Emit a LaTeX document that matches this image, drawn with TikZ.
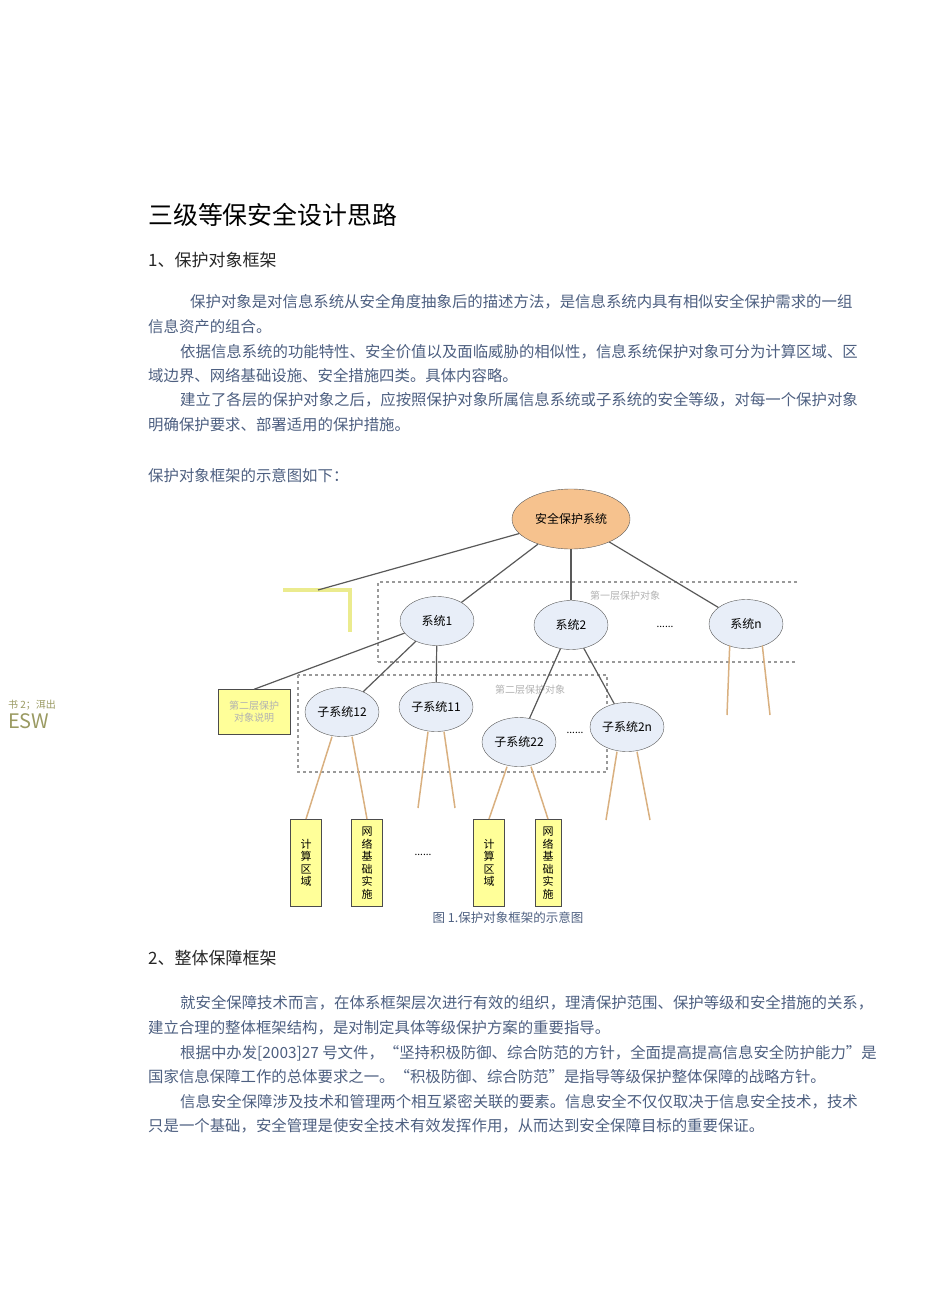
\documentclass[tikz,border=0pt]{standalone}
\usepackage{fontspec}
\setmainfont{Noto Sans CJK SC}
\usetikzlibrary{shapes.geometric}
\definecolor{bodyc}{HTML}{4D5F80}
\definecolor{orangef}{HTML}{F6C28E}
\definecolor{ellf}{HTML}{E8EEF8}
\definecolor{tan}{HTML}{D9B080}
\definecolor{yel}{HTML}{FFFF99}
\definecolor{olive}{HTML}{9A9A62}
\tikzset{
 body/.style={anchor=west,inner sep=0,text=bodyc,font=\fontsize{15.4}{15}\selectfont},
 head/.style={anchor=west,inner sep=0,text=black!85,font=\fontsize{17}{17}\selectfont},
 ell/.style={ellipse,draw=gray!70!black,fill=ellf,minimum width=74pt,minimum height=49pt,inner sep=0,font=\fontsize{12}{12}\selectfont},
 conn/.style={draw=gray!70!black,line width=1.2pt},
 leg/.style={draw=tan,line width=1.5pt},
 ybox/.style={draw=gray!60!black,fill=yel,line width=1pt,minimum width=31pt,minimum height=87pt,inner sep=0,align=center,font=\fontsize{11}{12.5}\selectfont},
 dbox/.style={draw=gray!80,dashed,line width=1.4pt},
 faint/.style={text=gray!60,font=\fontsize{10}{10}\selectfont},
}
\begin{document}
\begin{tikzpicture}[x=1pt,y=-1pt]
\useasboundingbox (0,0) rectangle (950,1314);
\node[anchor=west,inner sep=0,font=\fontsize{24.9}{25}\selectfont] (t) at (148,215) {三级等保安全设计思路};
\node[head] (h1) at (148,260) {1、保护对象框架};
\node[body] (p1) at (190,302) {保护对象是对信息系统从安全角度抽象后的描述方法，是信息系统内具有相似安全保护需求的一组};
\node[body] (p2) at (148,327) {信息资产的组合。};
\node[body] (p3) at (180,352) {依据信息系统的功能特性、安全价值以及面临威胁的相似性，信息系统保护对象可分为计算区域、区};
\node[body] (p4) at (148,376) {域边界、网络基础设施、安全措施四类。具体内容略。};
\node[body] (p5) at (180,400) {建立了各层的保护对象之后，应按照保护对象所属信息系统或子系统的安全等级，对每一个保护对象};
\node[body] (p6) at (148,425) {明确保护要求、部署适用的保护措施。};
\node[body] (p7) at (148,476) {保护对象框架的示意图如下：};
% margin note
\node[anchor=west,inner sep=0,text=olive,font=\fontsize{10}{10}\selectfont] (m1) at (8,705) {书 2；洱出};
\node[anchor=west,inner sep=0,text=olive,font=\fontsize{20}{20}\selectfont] (m2) at (8,721) {ESW};
% dashed boxes
\draw[dbox] (797,582) -- (378,582) -- (378,662);
\draw[dbox,line width=2.4pt] (378,662) -- (797,662);
\node[faint] (l1) at (625,596) {第一层保护对象};
\draw[dbox] (298,675) rectangle (607,772);
\node[faint] (l2) at (530,690) {第二层保护对象};
% top
\node[ellipse,draw=gray!70!black,fill=orangef,minimum width=118pt,minimum height=60pt,inner sep=0,font=\fontsize{12}{12}\selectfont] (top) at (571,519) {安全保护系统};
\node[ell] (s1) at (437,621) {系统1};
\node[ell] (s2) at (571,625) {系统2};
\node[ell] (sn) at (746,624) {系统n};
\node (d1) at (665,627) {......};
\coordinate (br) at (318,590);
\draw[draw=yel!80!olive,line width=4pt] (283,590) -- (350,590) -- (350,632);
\draw[conn] (top) -- (br);
\draw[conn] (top) -- (s1);
\draw[conn] (top) -- (s2);
\draw[conn] (top) -- (sn);
% second level
\node[ell] (c12) at (342,712) {子系统12};
\node[ell] (c11) at (436,707) {子系统11};
\node[ell] (c22) at (519,742) {子系统22};
\node[ell] (c2n) at (627,727) {子系统2n};
\node (d2) at (575,733) {......};
\node[draw=gray!60!black,fill=yel,minimum width=72pt,minimum height=45pt,inner sep=0,align=center,text=gray!60,font=\fontsize{10}{12}\selectfont] (yb) at (254,712) {第二层保护\\对象说明};
\draw[conn] (s1) -- (yb.north);
\draw[conn] (s1) -- (c12);
\draw[conn] (s1) -- (c11);
\draw[conn] (s2) -- (c22);
\draw[conn] (s2) -- (c2n);
% boxes
\node[ybox] (b1) at (306,863) {计\\算\\区\\域};
\node[ybox] (b2) at (367,863) {网\\络\\基\\础\\实\\施};
\node (d3) at (423,855) {......};
\node[ybox] (b3) at (489,863) {计\\算\\区\\域};
\node[ybox,minimum width=26pt] (b4) at (548,863) {网\\络\\基\\础\\实\\施};
% legs
\coordinate (e1) at (727,715); \coordinate (e2) at (770,715);
\draw[leg] (sn.south west) ++(10,4) -- (e1);
\draw[leg] (sn.south east) ++(-10,4) -- (e2);
\draw[leg] (c12.south) ++(-10,0) -- (b1.north);
\draw[leg] (c12.south) ++(10,0) -- (b2.north);
\coordinate (e3) at (418,808); \coordinate (e4) at (455,808);
\draw[leg] (c11.south) ++(-8,0) -- (e3);
\draw[leg] (c11.south) ++(8,0) -- (e4);
\draw[leg] (c22.south) ++(-12,0) -- (b3.north);
\draw[leg] (c22.south) ++(12,0) -- (b4.north);
\coordinate (e5) at (606,820); \coordinate (e6) at (650,820);
\draw[leg] (c2n.south) ++(-10,0) -- (e5);
\draw[leg] (c2n.south) ++(10,0) -- (e6);
\node[text=bodyc,font=\fontsize{12.5}{12.5}\selectfont] (cap) at (508,918) {图 1.保护对象框架的示意图};
% section 2
\node[head] (h2) at (148,958) {2、整体保障框架};
\node[body] (q1) at (180,1003) {就安全保障技术而言，在体系框架层次进行有效的组织，理清保护范围、保护等级和安全措施的关系，};
\node[body] (q2) at (148,1028) {建立合理的整体框架结构，是对制定具体等级保护方案的重要指导。};
\node[body] (q3) at (180,1053) {根据中办发[2003]27 号文件，“坚持积极防御、综合防范的方针，全面提高提高信息安全防护能力”是};
\node[body] (q4) at (148,1077) {国家信息保障工作的总体要求之一。“积极防御、综合防范”是指导等级保护整体保障的战略方针。};
\node[body] (q5) at (180,1102) {信息安全保障涉及技术和管理两个相互紧密关联的要素。信息安全不仅仅取决于信息安全技术，技术};
\node[body] (q6) at (148,1126) {只是一个基础，安全管理是使安全技术有效发挥作用，从而达到安全保障目标的重要保证。};
\end{tikzpicture}
\end{document}
